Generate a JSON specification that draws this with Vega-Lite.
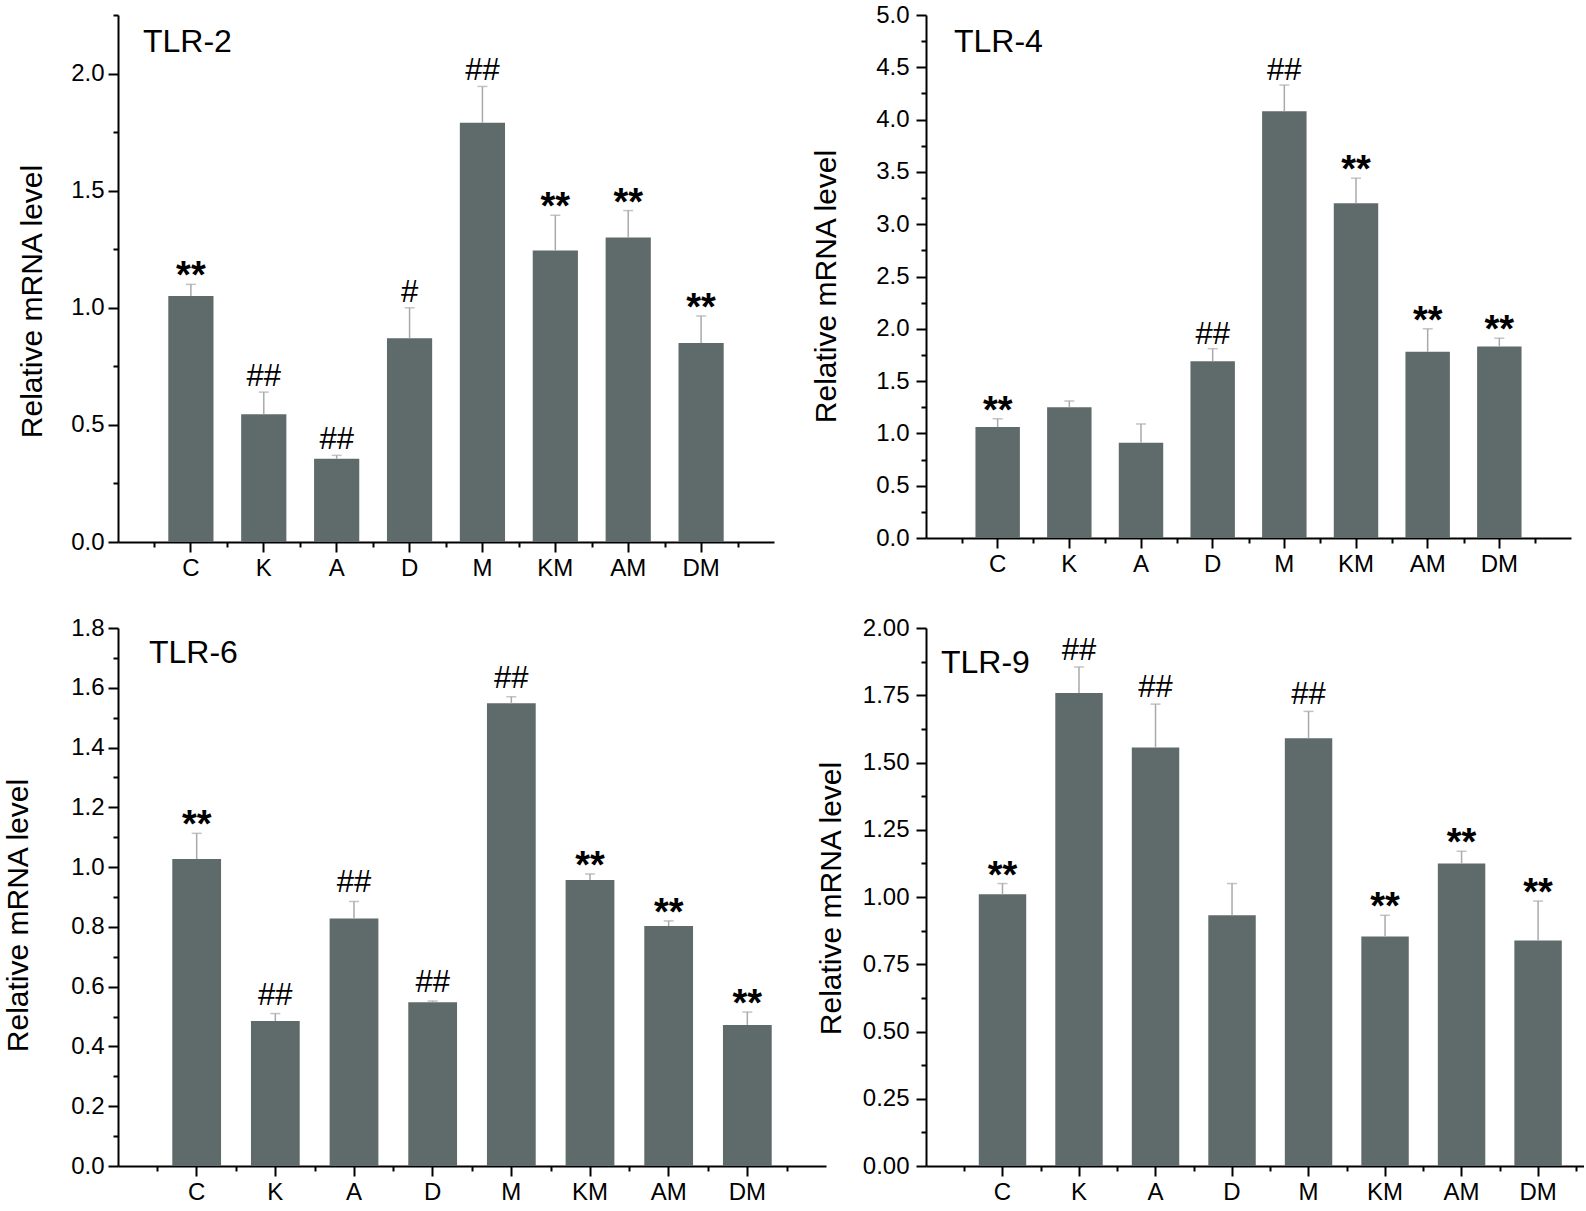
{
"$schema": "https://vega.github.io/schema/vega-lite/v6.json",
"padding": {"left": 3, "top": 3, "right": 0, "bottom": 0},
"config": {"view": {"stroke": null}, "font": "Liberation Sans",
 "axis": {"domainColor": "black", "domainWidth": 2, "tickColor": "black", "tickWidth": 2, "labelColor": "black", "labelFont": "Liberation Sans", "labelFontSize": 24, "titleFont": "Liberation Sans", "titleFontSize": 30, "titleFontWeight": "normal", "titleColor": "black", "grid": false, "labelFlush": false, "labelOverlap": false},
 "title": {"font": "Liberation Sans", "fontSize": 32, "fontWeight": "normal", "color": "black"}},
"columns": 2,
"bounds": "flush",
"spacing": {"row": 86, "column": 100},
"concat": [
{
 "width": 656, "height": 527,
 "title": {"text": "TLR-2", "anchor": "start", "frame": "group", "baseline": "top", "offset": -45, "dx": 25},
 "data": {"values": [
  {"group": "C", "value": 1.05, "upper": 1.10, "sig": "**"},
  {"group": "K", "value": 0.545, "upper": 0.64, "sig": "##"},
  {"group": "A", "value": 0.355, "upper": 0.37, "sig": "##"},
  {"group": "D", "value": 0.87, "upper": 1.0, "sig": "#"},
  {"group": "M", "value": 1.79, "upper": 1.945, "sig": "##"},
  {"group": "KM", "value": 1.245, "upper": 1.395, "sig": "**"},
  {"group": "AM", "value": 1.30, "upper": 1.415, "sig": "**"},
  {"group": "DM", "value": 0.85, "upper": 0.965, "sig": "**"}
 ]},
 "layer": [
  {"mark": {"type": "bar", "width": {"band": 0.62}, "color": "#5f6a6a"},
   "encoding": {
    "x": {"field": "group", "type": "nominal", "sort": null, "scale": {"domain": ["C","K","A","D","M","KM","AM","DM"], "paddingInner": 0, "paddingOuter": 0.5}, "axis": {"orient": "bottom", "title": null, "labelAngle": 0, "tickSize": 10, "labelPadding": 4}},
    "y": {"field": "value", "type": "quantitative", "scale": {"domain": [0, 2.25], "nice": false}, "axis": {"orient": "left", "values": [0, 0.5, 1, 1.5, 2], "format": ".1f", "tickSize": 10, "labelPadding": 4, "title": "Relative mRNA level", "titleX": -71, "titleY": 286}}}},
  {"mark": {"type": "rule", "color": "#a9a9a9", "strokeWidth": 1.5},
   "encoding": {
    "x": {"field": "group", "type": "nominal", "sort": null, "scale": {"domain": ["C","K","A","D","M","KM","AM","DM"], "paddingInner": 0, "paddingOuter": 0.5}, "axis": {"orient": "bottom", "title": null, "labels": false, "domain": false, "tickSize": 5, "tickBand": "extent"}},
    "y": {"field": "value", "type": "quantitative", "scale": {"domain": [0, 2.25], "nice": false}, "axis": {"orient": "left", "values": [0.25, 0.75, 1.25, 1.75, 2.25], "labels": false, "domain": false, "tickSize": 5, "title": null}},
    "y2": {"field": "upper"}}},
  {"mark": {"type": "tick", "color": "#a9a9a9", "thickness": 1.5, "size": 10},
   "encoding": {
    "x": {"field": "group", "type": "nominal", "sort": null, "axis": null},
    "y": {"field": "upper", "type": "quantitative", "axis": null}}},
  {"transform": [{"filter": "datum.sig == '**'"}],
   "mark": {"type": "text", "fontSize": 38, "fontWeight": "bold", "baseline": "alphabetic", "dy": 4, "color": "black"},
   "encoding": {
    "x": {"field": "group", "type": "nominal", "sort": null, "axis": null},
    "y": {"field": "upper", "type": "quantitative", "axis": null},
    "text": {"field": "sig"}}},
  {"transform": [{"filter": "datum.sig == '#' || datum.sig == '##'"}],
   "mark": {"type": "text", "fontSize": 31, "baseline": "alphabetic", "dy": -6, "color": "black"},
   "encoding": {
    "x": {"field": "group", "type": "nominal", "sort": null, "axis": null},
    "y": {"field": "upper", "type": "quantitative", "axis": null},
    "text": {"field": "sig"}}}
 ],
 "resolve": {"axis": {"x": "independent", "y": "independent"}}
},
{
 "width": 645, "height": 523,
 "title": {"text": "TLR-4", "anchor": "start", "frame": "group", "baseline": "top", "offset": -56, "dx": 28},
 "data": {"values": [
  {"group": "C", "value": 1.06, "upper": 1.14, "sig": "**"},
  {"group": "K", "value": 1.25, "upper": 1.31, "sig": ""},
  {"group": "A", "value": 0.91, "upper": 1.09, "sig": ""},
  {"group": "D", "value": 1.69, "upper": 1.81, "sig": "##"},
  {"group": "M", "value": 4.08, "upper": 4.33, "sig": "##"},
  {"group": "KM", "value": 3.20, "upper": 3.44, "sig": "**"},
  {"group": "AM", "value": 1.78, "upper": 2.00, "sig": "**"},
  {"group": "DM", "value": 1.83, "upper": 1.91, "sig": "**"}
 ]},
 "layer": [
  {"mark": {"type": "bar", "width": {"band": 0.62}, "color": "#5f6a6a"},
   "encoding": {
    "x": {"field": "group", "type": "nominal", "sort": null, "scale": {"domain": ["C","K","A","D","M","KM","AM","DM"], "paddingInner": 0, "paddingOuter": 0.5}, "axis": {"orient": "bottom", "title": null, "labelAngle": 0, "tickSize": 10, "labelPadding": 4}},
    "y": {"field": "value", "type": "quantitative", "scale": {"domain": [0, 5], "nice": false}, "axis": {"orient": "left", "values": [0, 0.5, 1, 1.5, 2, 2.5, 3, 3.5, 4, 4.5, 5], "format": ".1f", "tickSize": 10, "labelPadding": 7, "title": "Relative mRNA level", "titleX": -85, "titleY": 271}}}},
  {"mark": {"type": "rule", "color": "#a9a9a9", "strokeWidth": 1.5},
   "encoding": {
    "x": {"field": "group", "type": "nominal", "sort": null, "scale": {"domain": ["C","K","A","D","M","KM","AM","DM"], "paddingInner": 0, "paddingOuter": 0.5}, "axis": {"orient": "bottom", "title": null, "labels": false, "domain": false, "tickSize": 5, "tickBand": "extent"}},
    "y": {"field": "value", "type": "quantitative", "scale": {"domain": [0, 5], "nice": false}, "axis": {"orient": "left", "values": [0.25, 0.75, 1.25, 1.75, 2.25, 2.75, 3.25, 3.75, 4.25, 4.75], "labels": false, "domain": false, "tickSize": 5, "title": null}},
    "y2": {"field": "upper"}}},
  {"mark": {"type": "tick", "color": "#a9a9a9", "thickness": 1.5, "size": 10},
   "encoding": {
    "x": {"field": "group", "type": "nominal", "sort": null, "axis": null},
    "y": {"field": "upper", "type": "quantitative", "axis": null}}},
  {"transform": [{"filter": "datum.sig == '**'"}],
   "mark": {"type": "text", "fontSize": 38, "fontWeight": "bold", "baseline": "alphabetic", "dy": 4, "color": "black"},
   "encoding": {
    "x": {"field": "group", "type": "nominal", "sort": null, "axis": null},
    "y": {"field": "upper", "type": "quantitative", "axis": null},
    "text": {"field": "sig"}}},
  {"transform": [{"filter": "datum.sig == '#' || datum.sig == '##'"}],
   "mark": {"type": "text", "fontSize": 31, "baseline": "alphabetic", "dy": -5, "color": "black"},
   "encoding": {
    "x": {"field": "group", "type": "nominal", "sort": null, "axis": null},
    "y": {"field": "upper", "type": "quantitative", "axis": null},
    "text": {"field": "sig"}}}
 ],
 "resolve": {"axis": {"x": "independent", "y": "independent"}}
},
{
 "width": 708, "height": 538,
 "title": {"text": "TLR-6", "anchor": "start", "frame": "group", "baseline": "top", "offset": -54, "dx": 31},
 "data": {"values": [
  {"group": "C", "value": 1.027, "upper": 1.113, "sig": "**"},
  {"group": "K", "value": 0.485, "upper": 0.51, "sig": "##"},
  {"group": "A", "value": 0.828, "upper": 0.885, "sig": "##"},
  {"group": "D", "value": 0.548, "upper": 0.552, "sig": "##"},
  {"group": "M", "value": 1.548, "upper": 1.57, "sig": "##"},
  {"group": "KM", "value": 0.957, "upper": 0.977, "sig": "**"},
  {"group": "AM", "value": 0.803, "upper": 0.82, "sig": "**"},
  {"group": "DM", "value": 0.472, "upper": 0.515, "sig": "**"}
 ]},
 "layer": [
  {"mark": {"type": "bar", "width": {"band": 0.62}, "color": "#5f6a6a"},
   "encoding": {
    "x": {"field": "group", "type": "nominal", "sort": null, "scale": {"domain": ["C","K","A","D","M","KM","AM","DM"], "paddingInner": 0, "paddingOuter": 0.5}, "axis": {"orient": "bottom", "title": null, "labelAngle": 0, "tickSize": 10, "labelPadding": 4}},
    "y": {"field": "value", "type": "quantitative", "scale": {"domain": [0, 1.8], "nice": false}, "axis": {"orient": "left", "values": [0, 0.2, 0.4, 0.6, 0.8, 1.0, 1.2, 1.4, 1.6, 1.8], "format": ".1f", "tickSize": 10, "labelPadding": 4, "title": "Relative mRNA level", "titleX": -85, "titleY": 287}}}},
  {"mark": {"type": "rule", "color": "#a9a9a9", "strokeWidth": 1.5},
   "encoding": {
    "x": {"field": "group", "type": "nominal", "sort": null, "scale": {"domain": ["C","K","A","D","M","KM","AM","DM"], "paddingInner": 0, "paddingOuter": 0.5}, "axis": {"orient": "bottom", "title": null, "labels": false, "domain": false, "tickSize": 5, "tickBand": "extent"}},
    "y": {"field": "value", "type": "quantitative", "scale": {"domain": [0, 1.8], "nice": false}, "axis": {"orient": "left", "values": [0.1, 0.3, 0.5, 0.7, 0.9, 1.1, 1.3, 1.5, 1.7], "labels": false, "domain": false, "tickSize": 5, "title": null}},
    "y2": {"field": "upper"}}},
  {"mark": {"type": "tick", "color": "#a9a9a9", "thickness": 1.5, "size": 10},
   "encoding": {
    "x": {"field": "group", "type": "nominal", "sort": null, "axis": null},
    "y": {"field": "upper", "type": "quantitative", "axis": null}}},
  {"transform": [{"filter": "datum.sig == '**'"}],
   "mark": {"type": "text", "fontSize": 38, "fontWeight": "bold", "baseline": "alphabetic", "dy": 4, "color": "black"},
   "encoding": {
    "x": {"field": "group", "type": "nominal", "sort": null, "axis": null},
    "y": {"field": "upper", "type": "quantitative", "axis": null},
    "text": {"field": "sig"}}},
  {"transform": [{"filter": "datum.sig == '#' || datum.sig == '##'"}],
   "mark": {"type": "text", "fontSize": 31, "baseline": "alphabetic", "dy": -9, "color": "black"},
   "encoding": {
    "x": {"field": "group", "type": "nominal", "sort": null, "axis": null},
    "y": {"field": "upper", "type": "quantitative", "axis": null},
    "text": {"field": "sig"}}}
 ],
 "resolve": {"axis": {"x": "independent", "y": "independent"}}
},
{
 "width": 658, "height": 538,
 "title": {"text": "TLR-9", "anchor": "start", "frame": "group", "baseline": "top", "offset": -64, "dx": 15},
 "data": {"values": [
  {"group": "C", "value": 1.01, "upper": 1.05, "sig": "**"},
  {"group": "K", "value": 1.758, "upper": 1.855, "sig": "##"},
  {"group": "A", "value": 1.556, "upper": 1.717, "sig": "##"},
  {"group": "D", "value": 0.932, "upper": 1.05, "sig": ""},
  {"group": "M", "value": 1.59, "upper": 1.69, "sig": "##"},
  {"group": "KM", "value": 0.853, "upper": 0.932, "sig": "**"},
  {"group": "AM", "value": 1.125, "upper": 1.17, "sig": "**"},
  {"group": "DM", "value": 0.838, "upper": 0.985, "sig": "**"}
 ]},
 "layer": [
  {"mark": {"type": "bar", "width": {"band": 0.62}, "color": "#5f6a6a"},
   "encoding": {
    "x": {"field": "group", "type": "nominal", "sort": null, "scale": {"domain": ["C","K","A","D","M","KM","AM","DM"], "paddingInner": 0, "paddingOuter": 0.3, "align": 0.833}, "axis": {"orient": "bottom", "title": null, "labelAngle": 0, "tickSize": 10, "labelPadding": 4}},
    "y": {"field": "value", "type": "quantitative", "scale": {"domain": [0, 2], "nice": false}, "axis": {"orient": "left", "values": [0, 0.25, 0.5, 0.75, 1.0, 1.25, 1.5, 1.75, 2.0], "format": ".2f", "tickSize": 10, "labelPadding": 7, "title": "Relative mRNA level", "titleX": -80, "titleY": 270}}}},
  {"mark": {"type": "rule", "color": "#a9a9a9", "strokeWidth": 1.5},
   "encoding": {
    "x": {"field": "group", "type": "nominal", "sort": null, "scale": {"domain": ["C","K","A","D","M","KM","AM","DM"], "paddingInner": 0, "paddingOuter": 0.3, "align": 0.833}, "axis": {"orient": "bottom", "title": null, "labels": false, "domain": false, "tickSize": 5, "tickBand": "extent"}},
    "y": {"field": "value", "type": "quantitative", "scale": {"domain": [0, 2], "nice": false}, "axis": {"orient": "left", "values": [0.125, 0.375, 0.625, 0.875, 1.125, 1.375, 1.625, 1.875], "labels": false, "domain": false, "tickSize": 5, "title": null}},
    "y2": {"field": "upper"}}},
  {"mark": {"type": "tick", "color": "#a9a9a9", "thickness": 1.5, "size": 10},
   "encoding": {
    "x": {"field": "group", "type": "nominal", "sort": null, "axis": null},
    "y": {"field": "upper", "type": "quantitative", "axis": null}}},
  {"transform": [{"filter": "datum.sig == '**'"}],
   "mark": {"type": "text", "fontSize": 38, "fontWeight": "bold", "baseline": "alphabetic", "dy": 4, "color": "black"},
   "encoding": {
    "x": {"field": "group", "type": "nominal", "sort": null, "axis": null},
    "y": {"field": "upper", "type": "quantitative", "axis": null},
    "text": {"field": "sig"}}},
  {"transform": [{"filter": "datum.sig == '#' || datum.sig == '##'"}],
   "mark": {"type": "text", "fontSize": 31, "baseline": "alphabetic", "dy": -7, "color": "black"},
   "encoding": {
    "x": {"field": "group", "type": "nominal", "sort": null, "axis": null},
    "y": {"field": "upper", "type": "quantitative", "axis": null},
    "text": {"field": "sig"}}}
 ],
 "resolve": {"axis": {"x": "independent", "y": "independent"}}
}
]
}
